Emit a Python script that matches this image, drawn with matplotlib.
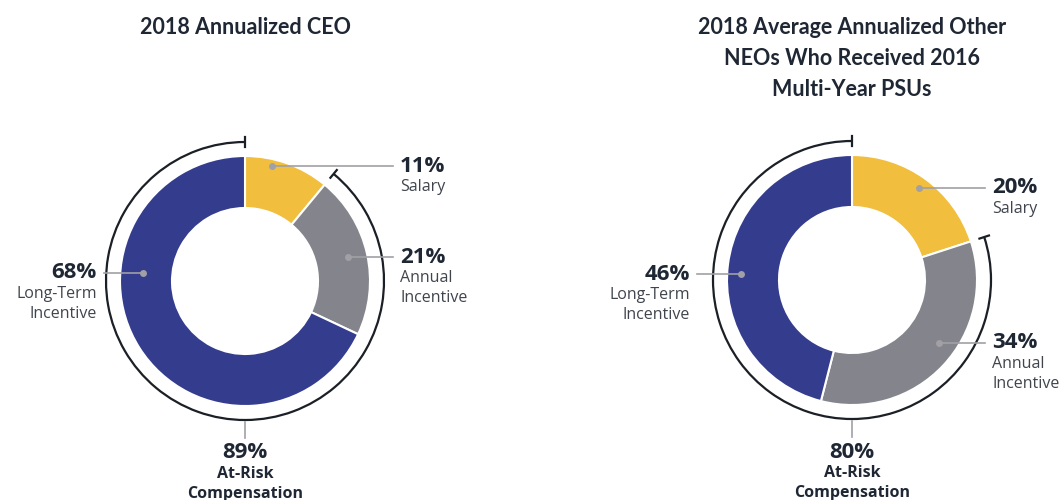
import numpy as np
import matplotlib.pyplot as plt
from matplotlib.patches import Arc

# Data
components = ["Salary", "Annual\nIncentive", "Long-Term\nIncentive"]
ceo_values = [11, 21, 68]
neo_values = [20, 34, 46]
ceo_at_risk = 89
neo_at_risk = 80
titles = ["2018 Annualized CEO",
          "2018 Average Annualized Other\nNEOs Who Received 2016\nMulti-Year PSUs"]

COLOURS = ["#F1BE3D", "#84848C", "#343C8E"]
TEXT = "#1E2733"
SUB = "#40454D"

W, H = 1064, 500
fig = plt.figure(figsize=(W / 100, H / 100), dpi=100)
ax = fig.add_axes([0, 0, 1, 1])

R_OUT, R_IN, R_ARC = 125, 73, 139


def py(y):
    # pixel row -> data y
    return H - y


def draw_donut(cx, cy, values, at_risk, title, title_y, label_layout):
    cy = py(cy)
    ax.pie(values, colors=COLOURS, startangle=90, counterclock=False,
           radius=R_OUT, center=(cx, cy),
           wedgeprops=dict(width=R_OUT - R_IN, edgecolor="white", linewidth=1.5))

    # at-risk arc: from top counter-clockwise to start of annual incentive
    end = 90 - values[0] * 3.6 + 360
    ax.add_patch(Arc((cx, cy), 2 * R_ARC, 2 * R_ARC, theta1=90, theta2=end,
                     color="#1B1F26", lw=1.6))
    for ang in (90, end):
        a = np.radians(ang)
        ax.plot([cx + (R_ARC - 5) * np.cos(a), cx + (R_ARC + 5) * np.cos(a)],
                [cy + (R_ARC - 5) * np.sin(a), cy + (R_ARC + 5) * np.sin(a)],
                color="#1B1F26", lw=1.6)

    # labels with leader lines
    for val, name, (ang, rad, lx, side) in zip(values, components, label_layout):
        a = np.radians(ang)
        dx, dy = cx + rad * np.cos(a), cy + rad * np.sin(a)
        ha = "left" if side == "r" else "right"
        x_end = lx - 7 if side == "r" else lx + 7
        ax.plot([dx, x_end], [dy, dy], color="#A0A0A6", lw=1.2)
        ax.plot(dx, dy, "o", color="#A0A0A6", ms=5, mec="none")
        ax.text(lx, dy, f"{val}%", ha=ha, va="center", fontsize=16,
                fontweight="bold", color=TEXT, family="Open Sans")
        ax.text(lx, dy - 13, name, ha=ha, va="top", fontsize=11.5,
                color=SUB, family="Open Sans", linespacing=1.35)

    # at-risk label below
    ax.plot([cx, cx], [cy - R_ARC - 2, cy - R_ARC - 18], color="#A0A0A6", lw=1.2)
    ax.text(cx, cy - R_ARC - 33, f"{at_risk}%", ha="center", va="center",
            fontsize=16, fontweight="bold", color=TEXT, family="Open Sans")
    ax.text(cx, cy - R_ARC - 46, "At-Risk\nCompensation", ha="center", va="top",
            fontsize=11.5, fontweight="bold", color=TEXT, family="Open Sans",
            linespacing=1.3)

    ax.text(cx, py(title_y), title, ha="center", va="top", fontsize=15.5,
            fontweight="bold", color=TEXT, family="Lato", linespacing=1.6)


draw_donut(245, 281, ceo_values, ceo_at_risk, titles[0], 17,
           [(77, 118, 400, "r"), (13, 106, 400, "r"), (175.5, 102, 97, "l")])
draw_donut(852, 280, neo_values, neo_at_risk, titles[1], 17,
           [(54, 114, 992, "r"), (-36, 107, 992, "r"), (177, 111, 690, "l")])

# pie() resets the limits, so set the pixel frame afterwards
ax.set_xlim(0, W)
ax.set_ylim(0, H)
ax.set_aspect("equal")
ax.axis("off")

fig.savefig("out.png", dpi=100)
